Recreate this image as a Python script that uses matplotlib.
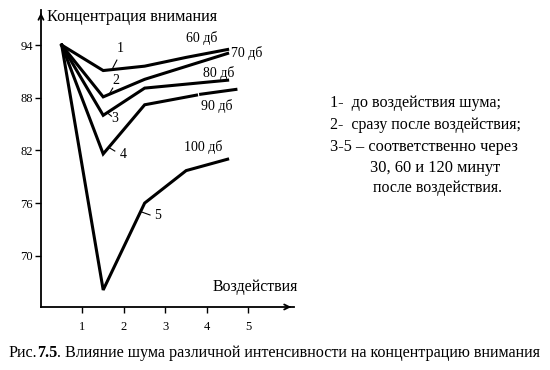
import numpy as np
import matplotlib
matplotlib.use("Agg")
import matplotlib.pyplot as plt

plt.rcParams['font.family'] = ['Liberation Serif', 'DejaVu Serif']

# ---- data ----
x1 = [0.5, 1.5, 2.5, 3.5, 4.5]
y1 = [94.0, 91.1, 91.6, 92.6, 93.5]
x2 = [0.5, 1.5, 2.5, 4.5]
y2 = [94.0, 88.1, 90.1, 93.05]
x3 = [0.5, 1.5, 2.5, 4.5]
y3 = [94.0, 86.0, 89.1, 90.0]
x4 = [0.5, 1.5, 2.5, 3.75, np.nan, 3.85, 4.7]
y4 = [94.0, 81.6, 87.2, 88.3, np.nan, 88.4, 88.95]
x5 = [0.5, 1.5, 2.5, 3.5, 4.5]
y5 = [94.0, 66.1, 76.0, 79.7, 81.0]

xticks = [1, 2, 3, 4, 5]
yticks = [70, 76, 82, 88, 94]

curve_ids = ["1", "2", "3", "4", "5"]
db_labels = ["60 дб", "70 дб", "80 дб", "90 дб", "100 дб"]

W, H = 550, 370
fig = plt.figure(figsize=(5.5, 3.7), dpi=100)
ax = fig.add_axes([0.0745, 0.1703, 0.46, 0.8027])
ax.set_xlim(0, 6.1)
ax.set_ylim(64.16, 98.0)

for xs, ys in [(x1, y1), (x2, y2), (x3, y3), (x4, y4), (x5, y5)]:
    ax.plot(xs, ys, color='black', lw=2.2, solid_joinstyle='miter')

# spines / arrows
for s in ['top', 'right']:
    ax.spines[s].set_visible(False)
for s in ['left', 'bottom']:
    ax.spines[s].set_linewidth(1.3)
ax.annotate('', xy=(1.0, 0), xytext=(0.97, 0), xycoords='axes fraction',
            arrowprops=dict(arrowstyle='->', lw=1.3, color='black', mutation_scale=9))
ax.annotate('', xy=(0, 1.0), xytext=(0, 0.97), xycoords='axes fraction',
            arrowprops=dict(arrowstyle='->', lw=1.3, color='black', mutation_scale=9))

ax.set_xticks(xticks)
ax.set_xticklabels([str(v) for v in xticks])
ax.set_yticks(yticks)
ax.set_yticklabels([str(v) for v in yticks])
ax.tick_params(axis='x', direction='out', length=4, width=1, pad=6, labelsize=9)
ax.tick_params(axis='y', direction='out', length=4, width=1, pad=2, labelsize=9)

# curve number labels and leader lines
num_pos = [(1.90, 93.66), (1.81, 90.01), (1.78, 85.69), (1.98, 81.59), (2.82, 74.64)]
leaders = [((1.73, 91.38), (1.83, 92.29)),
           ((1.66, 88.53), (1.73, 89.10)),
           ((1.62, 86.2), (1.70, 85.9)),
           ((1.66, 82.27), (1.78, 81.93)),
           ((2.43, 74.98), (2.63, 74.64))]
for lab, (tx, ty), ((ax0, ay0), (ax1_, ay1)) in zip(curve_ids, num_pos, leaders):
    ax.text(tx, ty, lab, fontsize=10, ha='center', va='center')
    ax.plot([ax0, ax1_], [ay0, ay1], color='black', lw=0.8)

db_pos = [(3.88, 94.80), (4.96, 93.09), (4.29, 90.81), (4.24, 87.05), (3.90, 82.38)]
for lab, (tx, ty) in zip(db_labels, db_pos):
    ax.text(tx, ty, lab, fontsize=10, ha='center', va='center')

fig.canvas.draw()
r = fig.canvas.get_renderer()


def fit(t, width):
    w = t.get_window_extent(r).width
    t.set_fontsize(t.get_fontsize() * width / w)


# axis titles
t = fig.text(47 / W, 1 - 17 / H, "Концентрация внимания", fontsize=11, ha='left', va='center')
fit(t, 171)
t = fig.text(255 / W, 1 - 287 / H, "Воздействия", fontsize=11, ha='center', va='center')
fit(t, 86)

# side notes
notes = [("1-  до воздействия шума;", 330, 103, 172),
         ("2-  сразу после воздействия;", 330, 125, 193),
         ("3-5 – соответственно через", 330, 147, 188),
         ("30, 60 и 120 минут", 370, 168, 130),
         ("после воздействия.", 373, 188, 130)]
for s, px, py, wd in notes:
    t = fig.text(px / W, 1 - py / H, s, fontsize=11, ha='left', va='center')
    fit(t, wd)

# caption with bold part
cap_y = 1 - 353 / H
parts = [("Рис.", 'normal'), ("7.5", 'bold'),
         (". Влияние шума различной интенсивности на концентрацию внимания", 'normal')]
fs = 12
texts = [fig.text(0, cap_y, p, fontsize=fs, fontweight=w, ha='left', va='center') for p, w in parts]
total = sum(tt.get_window_extent(r).width for tt in texts)
fs2 = fs * 537 / total
xpos = 8.0
for tt in texts:
    tt.set_fontsize(fs2)
    tt.set_x(xpos / W)
    xpos += tt.get_window_extent(r).width

fig.savefig("out.png", dpi=100)
